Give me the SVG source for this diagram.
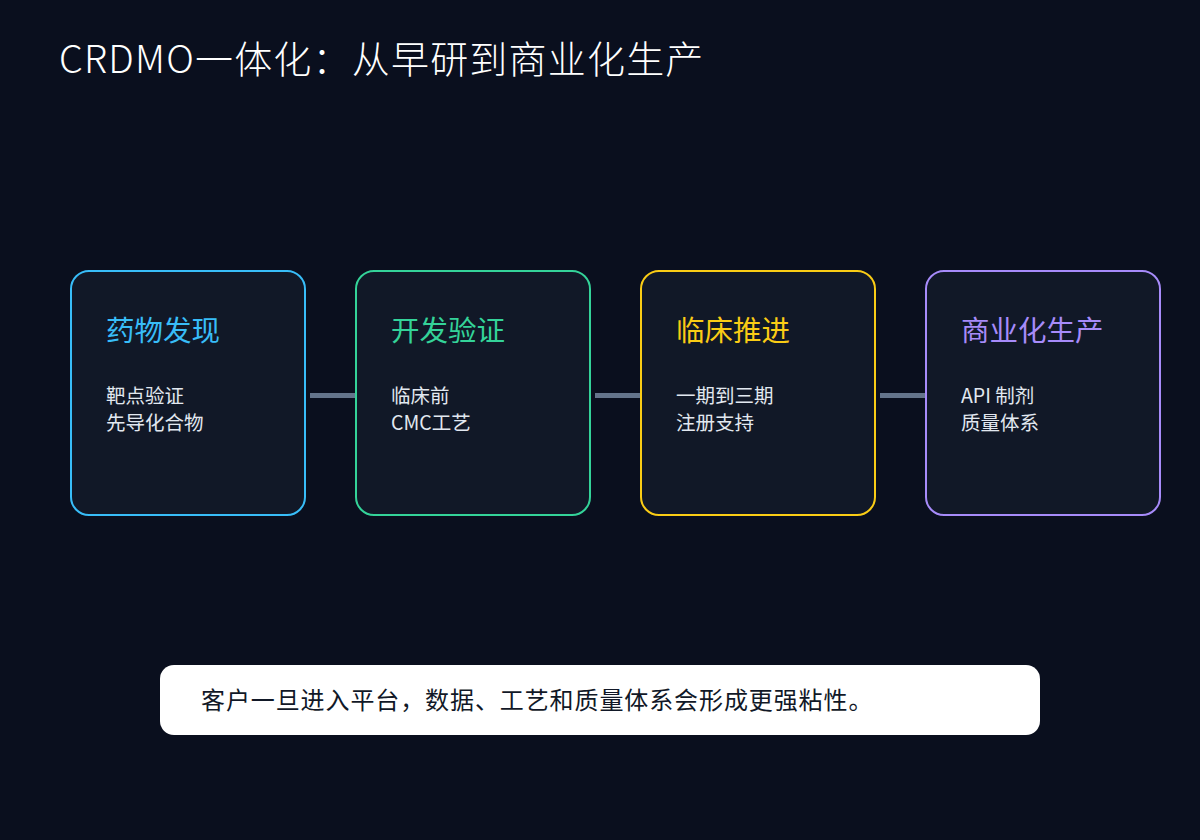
<svg xmlns="http://www.w3.org/2000/svg" width="1200" height="840" viewBox="0 0 1200 840">
<style>
.bg{fill:#0a0f1e}
.card{fill:#111827;stroke-width:2}
.ttl{font-family:"Noto Sans CJK SC","Noto Sans",sans-serif;font-size:28.5px}
.body{font-family:"Noto Sans CJK SC","Noto Sans",sans-serif;font-size:19.5px;fill:#e2e8f0}
.conn{stroke:#64748b;stroke-width:5}
</style>
<rect class="bg" x="0" y="0" width="1200" height="840"/>
<text x="59" y="73" font-family="'Noto Sans CJK SC','Noto Sans',sans-serif" font-weight="300" font-size="38" letter-spacing="1.2" fill="#ffffff">CRDMO一体化：从早研到商业化生产</text>
<g id="connectors">
<line class="conn" x1="310" y1="395.5" x2="356" y2="395.5"/>
<line class="conn" x1="595" y1="395.5" x2="641" y2="395.5"/>
<line class="conn" x1="880" y1="395.5" x2="926" y2="395.5"/>
</g>
<g id="node1">
<rect class="card" x="71" y="271" width="234" height="244" rx="18" stroke="#38bdf8"/>
<text class="ttl" x="106" y="341" fill="#38bdf8">药物发现</text>
<text class="body" x="106" y="403">靶点验证</text>
<text class="body" x="106" y="430">先导化合物</text>
</g>
<g id="node2">
<rect class="card" x="356" y="271" width="234" height="244" rx="18" stroke="#34d399"/>
<text class="ttl" x="391" y="341" fill="#34d399">开发验证</text>
<text class="body" x="391" y="403">临床前</text>
<text class="body" x="391" y="430">CMC工艺</text>
</g>
<g id="node3">
<rect class="card" x="641" y="271" width="234" height="244" rx="18" stroke="#facc15"/>
<text class="ttl" x="676" y="341" fill="#facc15">临床推进</text>
<text class="body" x="676" y="403">一期到三期</text>
<text class="body" x="676" y="430">注册支持</text>
</g>
<g id="node4">
<rect class="card" x="926" y="271" width="234" height="244" rx="18" stroke="#a78bfa"/>
<text class="ttl" x="961" y="341" fill="#a78bfa">商业化生产</text>
<text class="body" x="961" y="403">API 制剂</text>
<text class="body" x="961" y="430">质量体系</text>
</g>
<g id="note">
<rect x="160" y="665" width="880" height="70" rx="14" fill="#ffffff"/>
<text x="201" y="709" font-family="'Noto Sans CJK SC','Noto Sans',sans-serif" font-size="24" fill="#111827" letter-spacing="0.9">客户一旦进入平台，数据、工艺和质量体系会形成更强粘性。</text>
</g>
</svg>
